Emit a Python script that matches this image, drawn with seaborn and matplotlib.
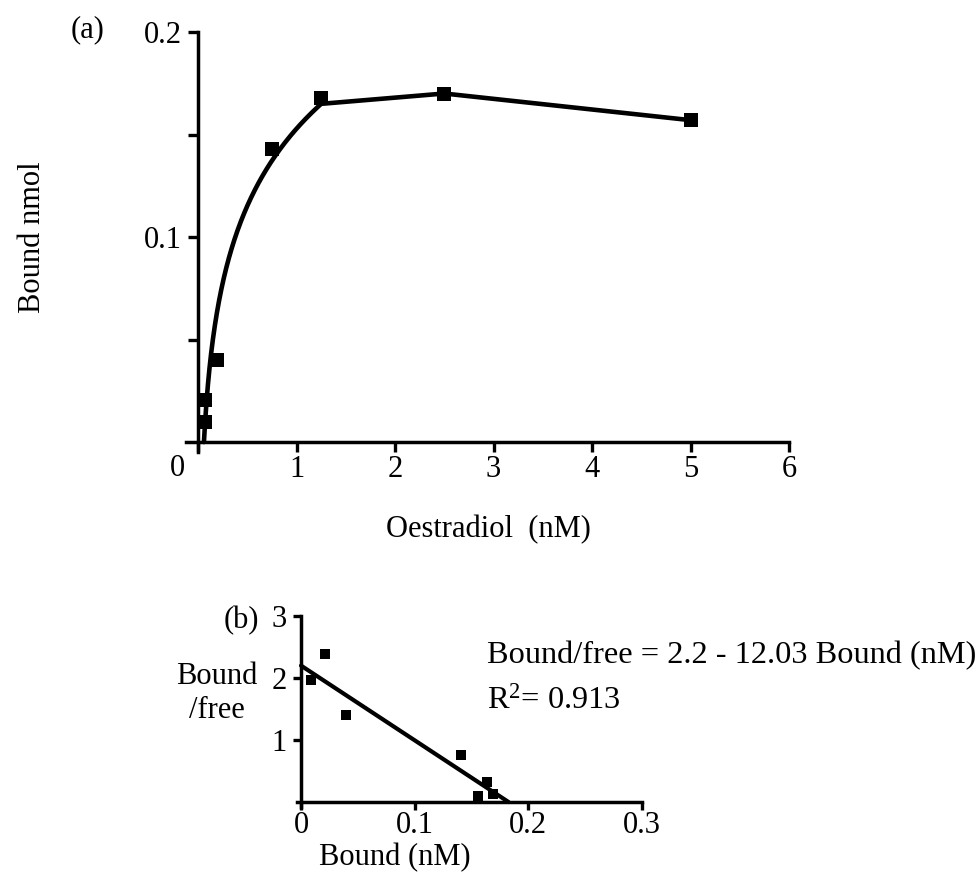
import numpy as np
import pandas as pd
import matplotlib
matplotlib.use("Agg")
import matplotlib.pyplot as plt
import seaborn as sns

# (a) saturation binding: oestradiol added vs. bound
oestradiol_nM = [0.07, 0.07, 0.19, 0.75, 1.25, 2.5, 5.0]
bound_nmol = [0.0098, 0.0205, 0.040, 0.143, 0.168, 0.170, 0.157]
rise_limit = 1.25  # points up to here are fitted with a log curve

# (b) Scatchard plot: bound vs. bound/free
scat_bound = [0.009, 0.021, 0.040, 0.141, 0.164, 0.156, 0.169]
scat_ratio = [1.96, 2.39, 1.40, 0.76, 0.33, 0.09, 0.13]
scat_intercept = 2.2
scat_slope = -12.03
scat_r2 = 0.913

top_xticks = [0, 1, 2, 3, 4, 5, 6]
top_xticklabels = ["", "1", "2", "3", "4", "5", "6"]
top_yticks = [0.05, 0.1, 0.15, 0.2]
top_yticklabels = ["", "0.1", "", "0.2"]
bot_xticks = [0, 0.1, 0.2, 0.3]
bot_xticklabels = ["0", "0.1", "0.2", "0.3"]
bot_yticks = [1, 2, 3]
bot_yticklabels = ["1", "2", "3"]

sns.set_theme(style="ticks")
plt.rcParams["font.family"] = ["Liberation Serif", "DejaVu Serif"]
plt.rcParams["mathtext.fontset"] = "custom"
plt.rcParams["mathtext.rm"] = "Liberation Serif"
plt.rcParams["mathtext.it"] = "Liberation Serif:italic"
plt.rcParams["mathtext.bf"] = "Liberation Serif:bold"

W, H = 978, 874
fig = plt.figure(figsize=(W / 100, H / 100), dpi=100)
fig.patch.set_facecolor("white")


def fx(px):
    return px / W


def fy(py):
    return 1 - py / H


FS = 22
FS_NOTE = 23.3
INK = "black"


def style_axes(ax, spine_w, tick_len, tick_w):
    ax.set_facecolor("white")
    for side in ("top", "right"):
        ax.spines[side].set_visible(False)
    for side in ("left", "bottom"):
        ax.spines[side].set_position(("data", 0))
        ax.spines[side].set_linewidth(spine_w)
        ax.spines[side].set_color(INK)
    ax.tick_params(direction="out", length=tick_len, width=tick_w,
                   colors=INK, labelsize=FS, pad=3)
    ax.set_xlabel("")
    ax.set_ylabel("")
    ax.grid(False)


# ---------- (a) ----------
ax1 = fig.add_axes([fx(186.2), fy(452.3), (789 - 186.2) / W, (452.3 - 32) / H])

xr = np.array(oestradiol_nM)
yr = np.array(bound_nmol)
rising = xr <= rise_limit
b_fit, a_fit = np.polyfit(np.log(xr[rising]), yr[rising], 1)
x_zero = np.exp(-a_fit / b_fit)
xc = np.geomspace(x_zero, rise_limit, 300)
yc = a_fit + b_fit * np.log(xc)
curve = pd.DataFrame({"x": np.r_[xc, xr[~rising]], "y": np.r_[yc, yr[~rising]]})

sns.lineplot(data=curve, x="x", y="y", ax=ax1, color=INK, lw=3.3,
             sort=False, estimator=None, zorder=2)
sns.scatterplot(x=oestradiol_nM, y=bound_nmol, ax=ax1, marker="s",
                s=9.5 ** 2, color=INK, edgecolor=INK, linewidth=0, zorder=3)

ax1.set_xlim(-0.12, 6)
ax1.set_ylim(-0.005, 0.2)
style_axes(ax1, 2.5, 7.5, 2.4)
ax1.set_xticks(top_xticks)
ax1.set_xticklabels(top_xticklabels)
ax1.set_yticks(top_yticks)
ax1.set_yticklabels(top_yticklabels)
ax1.tick_params(axis="x", pad=2)
ax1.tick_params(axis="y", pad=4)

fig.text(fx(177), fy(468), "0", fontsize=FS, ha="center", va="center", color=INK)
fig.text(fx(88), fy(30), "(a)", fontsize=FS, ha="center", va="center", color=INK)
fig.text(fx(33), fy(237), "Bound nmol", fontsize=FS, ha="center", va="center",
         rotation=90, color=INK)
fig.text(fx(488), fy(530), "Oestradiol  (nM)", fontsize=FS, ha="center",
         va="center", color=INK)

# ---------- (b) ----------
ax2 = fig.add_axes([fx(296.5), fy(807), (641.5 - 296.5) / W, (807 - 616) / H])

x_end = -scat_intercept / scat_slope
fit_line = pd.DataFrame({"x": [0.0, x_end],
                         "y": [scat_intercept, scat_intercept + scat_slope * x_end]})
sns.lineplot(data=fit_line, x="x", y="y", ax=ax2, color=INK, lw=3.0,
             estimator=None, zorder=2)
sns.scatterplot(x=scat_bound, y=scat_ratio, ax=ax2, marker="s", s=7.2 ** 2,
                color=INK, edgecolor=INK, linewidth=0, zorder=3)

ax2.set_xlim(-0.004, 0.3)
ax2.set_ylim(-0.08, 3)
style_axes(ax2, 2.5, 5.5, 2.4)
ax2.set_xticks(bot_xticks)
ax2.set_xticklabels(bot_xticklabels)
ax2.set_yticks(bot_yticks)
ax2.set_yticklabels(bot_yticklabels)
ax2.tick_params(axis="x", pad=1)
ax2.tick_params(axis="y", pad=5)

fig.text(fx(241), fy(621), "(b)", fontsize=FS, ha="center", va="center", color=INK)
fig.text(fx(217), fy(677), "Bound", fontsize=FS, ha="center", va="center", color=INK)
fig.text(fx(217), fy(711), "/free", fontsize=FS, ha="center", va="center", color=INK)
fig.text(fx(395), fy(858), "Bound (nM)", fontsize=FS, ha="center", va="center",
         color=INK)
fig.text(fx(487), fy(656),
         f"Bound/free = {scat_intercept:g} - {abs(scat_slope):.2f} Bound (nM)",
         fontsize=FS_NOTE, ha="left", va="center", color=INK)
fig.text(fx(487), fy(701), r"R$^{\mathrm{2}}$= " + f"{scat_r2:.3f}",
         fontsize=FS_NOTE, ha="left", va="center", color=INK)

fig.savefig("out.png", dpi=100, facecolor="white")
